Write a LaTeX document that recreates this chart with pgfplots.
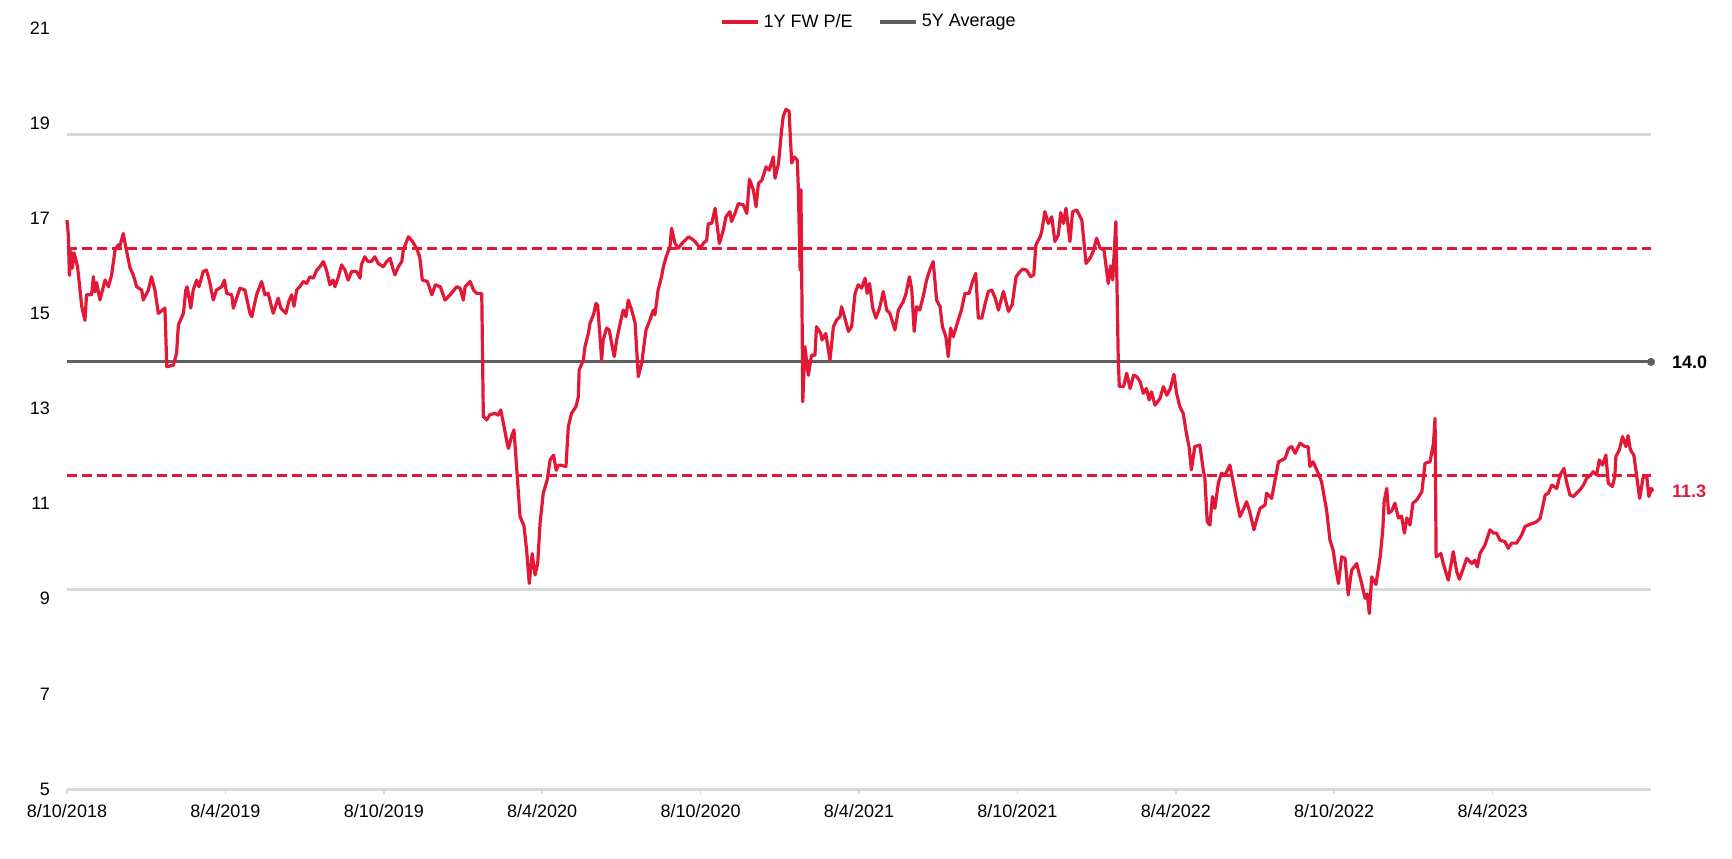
\documentclass[border=0pt]{standalone}
\usepackage{pgfplots}
\pgfplotsset{compat=1.18}
\usepackage{fontspec}
\setmainfont{Liberation Sans}

\definecolor{pered}{HTML}{E31837}
\definecolor{avggray}{HTML}{5F5F5F}
\definecolor{gridgray}{HTML}{D9D9D9}

% x = months since 8 Oct 2018
\pgfplotstableread{
x y
0.00 16.96
0.05 16.65
0.09 15.80
0.15 16.30
0.20 15.95
0.27 16.27
0.40 15.98
0.56 15.14
0.68 14.85
0.74 15.39
0.93 15.39
1.00 15.77
1.06 15.45
1.12 15.65
1.25 15.28
1.44 15.70
1.57 15.56
1.69 15.81
1.82 16.33
1.94 16.44
2.00 16.40
2.13 16.68
2.25 16.33
2.39 15.95
2.51 15.81
2.64 15.56
2.83 15.49
2.89 15.28
3.08 15.49
3.20 15.77
3.33 15.49
3.46 15.00
3.71 15.11
3.78 13.88
4.03 13.91
4.15 14.16
4.22 14.76
4.41 15.00
4.50 15.49
4.55 15.56
4.69 15.11
4.78 15.49
4.91 15.70
5.00 15.56
5.16 15.88
5.28 15.91
5.39 15.70
5.54 15.28
5.66 15.49
5.86 15.56
5.96 15.70
6.05 15.42
6.24 15.39
6.30 15.11
6.55 15.53
6.74 15.49
6.93 15.00
7.00 14.93
7.18 15.39
7.37 15.67
7.50 15.39
7.62 15.42
7.81 15.00
8.00 15.32
8.10 15.11
8.29 15.00
8.40 15.25
8.51 15.39
8.60 15.15
8.70 15.49
8.82 15.56
8.95 15.67
9.08 15.63
9.20 15.77
9.33 15.74
9.46 15.91
9.58 15.98
9.71 16.09
9.83 15.91
9.96 15.60
10.08 15.70
10.15 15.56
10.28 15.77
10.40 16.02
10.53 15.91
10.65 15.70
10.78 15.88
10.97 15.88
11.10 15.74
11.15 16.02
11.28 16.19
11.40 16.09
11.53 16.09
11.66 16.19
11.79 16.05
11.98 15.98
12.11 16.09
12.24 16.16
12.36 15.91
12.42 15.81
12.55 15.98
12.68 16.09
12.74 16.33
12.93 16.61
13.05 16.54
13.24 16.37
13.36 16.19
13.46 15.70
13.65 15.67
13.82 15.39
13.95 15.60
14.14 15.56
14.32 15.28
14.51 15.39
14.76 15.56
14.89 15.53
15.01 15.28
15.08 15.56
15.27 15.67
15.40 15.49
15.52 15.42
15.71 15.42
15.77 12.83
15.90 12.76
16.02 12.87
16.21 12.90
16.33 12.86
16.43 12.97
16.53 12.69
16.65 12.34
16.72 12.16
16.84 12.41
16.93 12.55
17.03 11.78
17.16 10.73
17.31 10.53
17.41 10.02
17.51 9.32
17.62 9.95
17.73 9.50
17.83 9.75
17.92 10.59
18.04 11.22
18.19 11.50
18.30 11.92
18.43 12.02
18.53 11.70
18.62 11.81
18.70 11.81
18.90 11.78
18.99 12.62
19.11 12.90
19.28 13.04
19.37 13.25
19.40 13.81
19.56 14.02
19.62 14.30
19.75 14.58
19.81 14.79
19.94 14.97
20.04 15.21
20.10 15.17
20.19 14.51
20.25 14.02
20.31 14.44
20.44 14.69
20.54 14.65
20.63 14.37
20.73 14.09
20.82 14.44
21.01 14.93
21.07 15.07
21.17 14.93
21.26 15.28
21.39 15.07
21.52 14.79
21.64 13.67
21.70 13.81
21.77 13.95
21.93 14.65
22.08 14.86
22.21 15.07
22.27 14.97
22.39 15.49
22.52 15.77
22.59 15.98
22.70 16.20
22.84 16.40
22.90 16.79
23.03 16.47
23.16 16.37
23.29 16.47
23.54 16.61
23.73 16.54
23.85 16.47
23.98 16.37
24.10 16.47
24.23 16.54
24.29 16.89
24.42 16.89
24.55 17.21
24.71 16.47
24.86 16.75
24.96 17.03
25.11 17.14
25.17 16.93
25.30 17.10
25.43 17.31
25.62 17.28
25.75 17.10
25.85 17.82
26.00 17.59
26.10 17.24
26.19 17.73
26.32 17.80
26.48 18.08
26.60 18.01
26.75 18.29
26.82 17.84
26.95 18.15
27.07 18.86
27.13 19.14
27.23 19.29
27.35 19.25
27.45 18.16
27.55 18.29
27.66 18.22
27.70 17.66
27.77 15.91
27.80 17.60
27.84 15.20
27.87 13.14
27.95 14.30
28.08 13.70
28.20 14.12
28.33 14.12
28.39 14.72
28.55 14.58
28.60 14.44
28.74 14.58
28.90 14.02
29.03 14.72
29.15 14.86
29.28 14.93
29.34 15.14
29.45 14.93
29.60 14.62
29.72 14.72
29.85 15.42
29.97 15.60
30.10 15.53
30.23 15.74
30.31 15.42
30.40 15.63
30.52 15.11
30.64 14.90
30.78 15.11
30.92 15.46
31.05 15.07
31.17 15.00
31.36 14.65
31.49 15.07
31.68 15.25
31.78 15.42
31.91 15.77
32.00 15.49
32.09 14.62
32.18 15.14
32.30 15.07
32.43 15.35
32.56 15.70
32.68 15.91
32.81 16.09
32.94 15.28
33.07 15.14
33.16 14.72
33.29 14.51
33.38 14.09
33.47 14.69
33.57 14.51
33.76 14.86
33.88 15.07
34.01 15.42
34.17 15.42
34.30 15.67
34.42 15.84
34.52 14.90
34.65 14.90
34.78 15.21
34.90 15.46
35.03 15.49
35.16 15.32
35.28 15.07
35.47 15.46
35.66 15.04
35.80 15.18
35.95 15.77
36.10 15.88
36.20 15.93
36.35 15.91
36.50 15.77
36.62 15.81
36.70 16.44
36.86 16.61
36.92 16.72
37.04 17.14
37.17 16.89
37.30 17.03
37.42 16.51
37.55 16.65
37.64 17.12
37.74 16.89
37.84 17.21
37.99 16.51
38.09 17.14
38.25 17.17
38.44 16.96
38.60 16.05
38.75 16.16
38.87 16.30
39.00 16.58
39.13 16.37
39.28 16.33
39.44 15.63
39.53 16.00
39.61 15.70
39.73 16.93
39.82 14.02
39.86 13.46
40.02 13.46
40.14 13.74
40.27 13.42
40.40 13.70
40.52 13.67
40.65 13.56
40.77 13.32
40.89 13.42
40.99 13.18
41.08 13.35
41.21 13.07
41.40 13.21
41.53 13.46
41.66 13.28
41.79 13.42
41.93 13.72
42.03 13.32
42.15 13.04
42.28 12.90
42.40 12.48
42.50 12.20
42.59 11.71
42.72 12.20
42.91 12.23
43.04 11.71
43.10 11.54
43.19 10.62
43.29 10.55
43.39 11.15
43.48 10.90
43.61 11.43
43.73 11.64
43.86 11.60
44.05 11.81
44.17 11.46
44.30 11.08
44.43 10.73
44.55 10.87
44.68 11.04
44.80 10.83
44.96 10.45
45.06 10.66
45.19 10.90
45.38 10.97
45.44 11.22
45.63 11.11
45.76 11.50
45.89 11.88
46.14 11.95
46.27 12.16
46.39 12.20
46.52 12.06
46.70 12.27
46.89 12.20
47.01 12.20
47.08 11.78
47.20 11.88
47.39 11.64
47.52 11.46
47.71 10.87
47.84 10.23
47.96 10.02
48.07 9.60
48.16 9.32
48.28 9.88
48.41 9.85
48.53 9.08
48.66 9.60
48.85 9.74
49.04 9.32
49.17 9.01
49.25 9.10
49.33 8.69
49.42 9.46
49.58 9.30
49.74 9.88
49.84 10.45
49.89 11.04
49.99 11.32
50.06 10.80
50.18 10.85
50.30 11.01
50.43 10.70
50.55 10.74
50.66 10.38
50.75 10.70
50.87 10.55
50.98 11.01
51.13 11.08
51.32 11.25
51.44 11.85
51.63 11.88
51.76 12.27
51.82 12.79
51.86 9.88
52.04 9.95
52.13 9.74
52.32 9.39
52.51 9.99
52.64 9.57
52.74 9.41
52.89 9.64
53.02 9.85
53.21 9.74
53.33 9.81
53.42 9.67
53.52 9.95
53.71 10.13
53.90 10.45
54.03 10.38
54.15 10.38
54.28 10.23
54.47 10.20
54.59 10.06
54.72 10.17
54.91 10.17
55.10 10.34
55.23 10.52
55.35 10.55
55.54 10.59
55.67 10.62
55.80 10.69
55.90 10.94
55.99 11.18
56.11 11.22
56.24 11.39
56.43 11.32
56.55 11.60
56.70 11.74
56.80 11.46
56.93 11.18
57.06 11.15
57.18 11.22
57.31 11.29
57.44 11.39
57.56 11.53
57.71 11.60
57.81 11.67
57.94 11.60
58.04 11.92
58.16 11.81
58.29 12.02
58.38 11.43
58.54 11.36
58.63 11.57
58.67 11.99
58.80 12.13
58.92 12.41
59.05 12.20
59.13 12.43
59.22 12.13
59.35 12.02
59.57 11.11
59.70 11.55
59.84 11.57
59.92 11.15
60.00 11.29
}\pedata

\begin{document}
\begin{tikzpicture}
\begin{axis}[
    scale only axis,
    width=792bp, height=380.5bp,
    xmin=0, xmax=60,
    ymin=5, ymax=21,
    clip=false,
    axis x line*=bottom,
    axis y line*=left,
    x axis line style={draw=gridgray, line width=1.5bp},
    y axis line style={draw=none},
    xtick={0,6,...,54},
    xticklabels={8/10/2018,8/4/2019,8/10/2019,8/4/2020,8/10/2020,8/4/2021,8/10/2021,8/4/2022,8/10/2022,8/4/2023},
    ytick={5,7,...,21},
    tick align=outside,
    major tick length=2.5bp,
    xtick style={draw=gridgray, line width=0.8bp},
    ytick style={draw=none},
    yticklabel style={xshift=-2.5bp},
    xticklabel style={yshift=-1.5bp},
    tick label style={font=\fontsize{9bp}{11bp}\selectfont},
    /pgf/number format/assume math mode=true,
    legend style={draw=none, fill=none, at={(axis description cs:0.507,1)}, anchor=center, yshift=3bp,
        font=\fontsize{9bp}{11bp}\selectfont, legend columns=-1,
        /tikz/every even column/.append style={column sep=11bp}},
    legend image code/.code={\draw[#1] (0bp,0bp) -- (18bp,0bp);},
]
\addlegendimage{pered, line width=1.6bp}
\addlegendentry{1Y FW P/E}
\addlegendimage{avggray, line width=1.6bp}
\addlegendentry{5Y Average}

% +/- 2 standard deviations
\addplot[forget plot, gridgray, line width=1.5bp] coordinates {(0,18.76) (60,18.76)};
\addplot[forget plot, gridgray, line width=1.5bp] coordinates {(0,9.20) (60,9.20)};
% +/- 1 standard deviation
\addplot[forget plot, pered, line width=1.4bp, dash pattern=on 5bp off 2.5bp] coordinates {(0,16.37) (60,16.37)};
\addplot[forget plot, pered, line width=1.4bp, dash pattern=on 5bp off 2.5bp] coordinates {(0,11.59) (60,11.59)};
% 5Y average
\addplot[forget plot, avggray, line width=1.6bp] coordinates {(0,13.98) (60,13.98)};
\addplot[forget plot, avggray, only marks, mark=*, mark size=1.8bp] coordinates {(60,13.98)};

\addplot[forget plot, pered, line width=1.6bp, line join=round] table[x=x, y=y] {\pedata};
\addplot[forget plot, pered, only marks, mark=*, mark size=1.2bp] coordinates {(60,11.29)};

\node[anchor=west, font=\fontsize{9bp}{11bp}\selectfont\bfseries, xshift=7bp] at (axis cs:60,13.98) {14.0};
\node[anchor=west, font=\fontsize{9bp}{11bp}\selectfont\bfseries, text=pered, xshift=7bp] at (axis cs:60,11.25) {11.3};
\end{axis}
\pgfresetboundingbox
\path ([shift={(-33.5bp,-34.5bp)}]current axis.south west) rectangle ([shift={(40.5bp,14bp)}]current axis.north east);
\end{tikzpicture}
\end{document}
